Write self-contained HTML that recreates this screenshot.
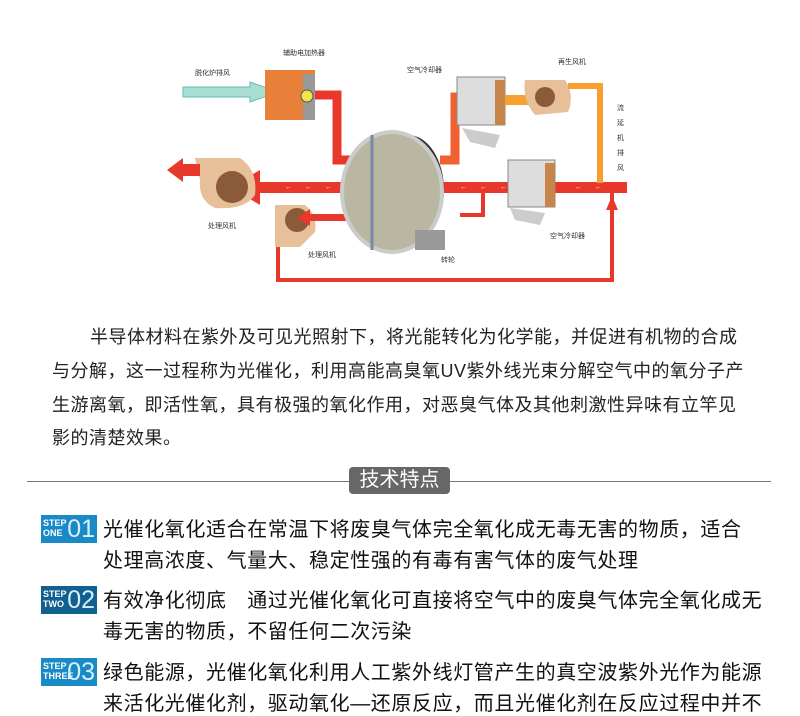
<!DOCTYPE html>
<html><head><meta charset="utf-8"><style>
body{margin:0;width:800px;height:708px;background:#fff;overflow:hidden;position:relative;font-family:"Liberation Sans","Noto Sans CJK SC",sans-serif;color:#222}
.l{position:absolute;white-space:nowrap;font-size:18px;line-height:20px;letter-spacing:0.5px}
.s{position:absolute;white-space:nowrap;font-size:20px;line-height:24px;color:#111;letter-spacing:0.6px}
.b{position:absolute;left:41px;width:56px;height:28px;background:#1a8ac6;color:#fff}
.b .t{position:absolute;left:2px;top:3px;font-size:9px;line-height:10px;font-weight:bold}
.b .n{position:absolute;right:2px;top:1px;font-size:25px;line-height:26px;color:#d8eefa}
</style></head><body>
<svg width="800" height="300" style="position:absolute;left:0;top:0" font-family="Liberation Sans,Noto Sans CJK SC,sans-serif" font-size="7" fill="#333">
<polygon points="183,87 250,87 250,82 278,92 250,102 250,97 183,97" fill="#a8dfd2" stroke="#6bb" stroke-width="1"/>
<rect x="265" y="70" width="50" height="50" fill="#e8803a"/><rect x="303" y="74" width="12" height="46" fill="#999"/>
<circle cx="307" cy="96" r="6" fill="#f3e34a" stroke="#555"/>
<polyline points="315,95 337,95 337,160 380,160" fill="none" stroke="#e8382b" stroke-width="9"/>
<polygon points="378,151 392,160 378,169" fill="#e8382b"/>
<rect x="250" y="182" width="100" height="11" fill="#e8382b"/>
<polygon points="260,170 230,187 260,205" fill="#e8382b"/>
<rect x="440" y="182" width="187" height="11" fill="#e8382b"/>
<path d="M195,158 L240,158 Q258,170 255,195 Q245,210 215,208 Q198,200 200,180 Z" fill="#e7bf98"/>
<circle cx="232" cy="187" r="16" fill="#8a5a3a"/>
<polygon points="200,164 183,164 183,158 167,170 183,182 183,176 200,176" fill="#e8382b"/>
<path d="M275,205 L305,205 Q318,215 315,232 L300,247 L275,247 Z" fill="#e7bf98"/>
<circle cx="297" cy="220" r="12" fill="#8a5a3a"/>
<rect x="305" y="214" width="50" height="7" fill="#e8382b"/><polygon points="310,209 297,218 310,226" fill="#e8382b"/>
<polyline points="483,190 483,215 460,215" fill="none" stroke="#e8382b" stroke-width="4"/>
<polyline points="278,247 278,280 612,280 612,192" fill="none" stroke="#e8382b" stroke-width="4"/>
<polygon points="606,210 612,196 618,210" fill="#e8382b"/>
<ellipse cx="408" cy="190" rx="36" ry="55" fill="#333"/>
<ellipse cx="392" cy="192" rx="50" ry="60" fill="#b9b7a2" stroke="#ccc" stroke-width="4"/>
<line x1="372" y1="135" x2="372" y2="250" stroke="#78a" stroke-width="3"/>
<rect x="415" y="230" width="30" height="20" fill="#999"/>
<polyline points="440,160 455,160 455,97 460,97" fill="none" stroke="#f06030" stroke-width="9"/>
<rect x="457" y="77" width="48" height="48" fill="#ddd" stroke="#888"/><rect x="495" y="80" width="10" height="45" fill="#c8854a"/>
<path d="M462,128 L500,135 L495,148 L470,142 Z" fill="#ccc"/>
<rect x="505" y="95" width="25" height="10" fill="#f7a030"/>
<path d="M525,80 L565,80 Q575,95 568,112 L535,115 Q522,100 525,80Z" fill="#e7bf98"/><circle cx="545" cy="97" r="10" fill="#8a5a3a"/>
<polyline points="568,86 600,86 600,183" fill="none" stroke="#f7a030" stroke-width="6"/>
<rect x="508" y="160" width="47" height="47" fill="#ddd" stroke="#888"/><rect x="545" y="163" width="10" height="44" fill="#c8854a"/>
<path d="M510,208 L545,213 L540,225 L515,220 Z" fill="#ccc"/>
<g fill="#fff"><text x="285" y="189">←</text><text x="305" y="189">←</text><text x="325" y="189">←</text><text x="460" y="189">←</text><text x="480" y="189">←</text><text x="500" y="189">←</text><text x="575" y="189">←</text><text x="595" y="189">←</text></g>
<text x="195" y="75">脱化炉排风</text><text x="283" y="55">辅助电加热器</text><text x="407" y="72">空气冷却器</text><text x="558" y="64">再生风机</text>
<text x="208" y="228">处理风机</text><text x="308" y="257">处理风机</text><text x="441" y="262">转轮</text><text x="550" y="238">空气冷却器</text>
<text x="617" y="110">流</text><text x="617" y="125">延</text><text x="617" y="140">机</text><text x="617" y="155">排</text><text x="617" y="170">风</text>
</svg>
<div class="l" style="left:90px;top:327px">半导体材料在紫外及可见光照射下，将光能转化为化学能，并促进有机物的合成</div>
<div class="l" style="left:52px;top:361px">与分解，这一过程称为光催化，利用高能高臭氧UV紫外线光束分解空气中的氧分子产</div>
<div class="l" style="left:52px;top:395px">生游离氧，即活性氧，具有极强的氧化作用，对恶臭气体及其他刺激性异味有立竿见</div>
<div class="l" style="left:52px;top:428px">影的清楚效果。</div>
<div style="position:absolute;left:27px;top:481px;width:744px;height:1px;background:#777"></div>
<div style="position:absolute;left:349px;top:467px;width:101px;height:27px;background:#676767;border-radius:4px;color:#fff;font-size:20px;line-height:27px;text-align:center">技术特点</div>
<div class="b" style="top:515px"><span class="t">STEP<br>ONE</span><span class="n">01</span></div>
<div class="s" style="left:103px;top:518px">光催化氧化适合在常温下将废臭气体完全氧化成无毒无害的物质，适合</div>
<div class="s" style="left:103px;top:549px">处理高浓度、气量大、稳定性强的有毒有害气体的废气处理</div>
<div class="b" style="top:586px;background:#11608f"><span class="t">STEP<br>TWO</span><span class="n">02</span></div>
<div class="s" style="left:103px;top:589px">有效净化彻底　通过光催化氧化可直接将空气中的废臭气体完全氧化成无</div>
<div class="s" style="left:103px;top:620px">毒无害的物质，不留任何二次污染</div>
<div class="b" style="top:658px"><span class="t">STEP<br>THREE</span><span class="n">03</span></div>
<div class="s" style="left:103px;top:661px">绿色能源，光催化氧化利用人工紫外线灯管产生的真空波紫外光作为能源</div>
<div class="s" style="left:103px;top:692px">来活化光催化剂，驱动氧化—还原反应，而且光催化剂在反应过程中并不</div>
</body></html>
